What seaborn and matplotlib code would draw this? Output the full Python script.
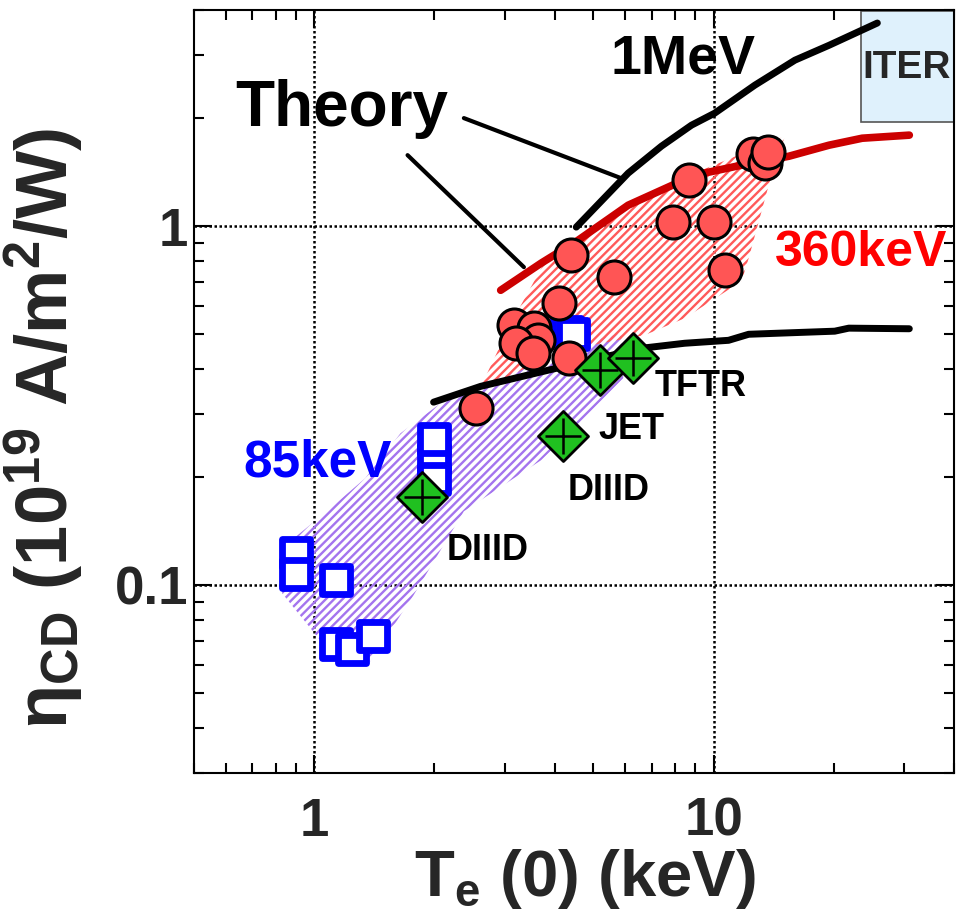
import numpy as np
import seaborn as sns
import matplotlib.pyplot as plt
from matplotlib.patches import Polygon, Rectangle
from matplotlib.ticker import FuncFormatter, NullFormatter

# theory curves, Te(0) in keV vs eta_CD in 1e19 A/m^2/W
MEV1_TE = [4.53, 6.11, 7.40, 8.80, 10.06, 12.68, 15.98, 19.45, 25.7]
MEV1_ETA = [0.994, 1.405, 1.67, 1.911, 2.064, 2.47, 2.90, 3.19, 3.68]
KEV360_TE = [2.93, 3.70, 4.58, 6.11, 8.96, 11.75, 15.43, 19.45, 23.55, 30.9]
KEV360_ETA = [0.663, 0.789, 0.914, 1.144, 1.387, 1.479, 1.566, 1.681, 1.758, 1.793]
LOW_TE = [1.99, 2.61, 3.85, 6.59, 8.46, 10.9, 12.24, 20.1, 21.8, 30.9]
LOW_ETA = [0.3235, 0.358, 0.397, 0.457, 0.472, 0.481, 0.500, 0.510, 0.520, 0.518]

# JT-60U high energy (N-NB) shots
CIRCLE_TE = [2.54, 3.16, 3.55, 3.63, 3.20, 3.53, 4.10, 4.40, 4.35, 5.64,
             7.93, 10.0, 10.66, 8.70, 12.53, 13.43, 13.67]
CIRCLE_ETA = [0.311, 0.530, 0.520, 0.481, 0.472, 0.443, 0.610, 0.830, 0.429, 0.721,
              1.026, 1.026, 0.754, 1.343, 1.587, 1.498, 1.607]

# 85 keV positive-ion beams
SQUARE_TE = [0.901, 0.901, 1.132, 1.132, 1.242, 1.403, 2.0, 2.0, 2.0, 4.30, 4.45]
SQUARE_ETA = [0.1228, 0.1073, 0.1036, 0.0687, 0.0663, 0.0723, 0.2244, 0.255, 0.1973, 0.507, 0.500]

# other machines
DIAMOND_TE = [1.857, 4.20, 5.20, 6.30]
DIAMOND_ETA = [0.1758, 0.260, 0.397, 0.429]

RED_REGION_TE = [2.58, 3.11, 3.80, 5.87, 9.33, 15.08, 13.74, 12.24, 11.75, 8.46, 6.71, 5.23, 4.03]
RED_REGION_ETA = [0.347, 0.537, 0.804, 1.087, 1.432, 1.781, 1.301, 0.814, 0.703, 0.554, 0.497, 0.472, 0.443]
PURPLE_REGION_TE = [0.860, 1.097, 1.343, 1.645, 2.07, 2.61, 3.70, 5.23, 5.87, 5.94, 4.66, 3.70,
                    2.37, 1.773, 1.382, 1.142, 0.831]
PURPLE_REGION_ETA = [0.131, 0.1638, 0.1987, 0.265, 0.321, 0.3655, 0.415, 0.4875, 0.5035, 0.3773,
                     0.286, 0.223, 0.1607, 0.0938, 0.0614, 0.0614, 0.095]

THEORY_POINTERS = [((2.37, 2.00), (5.87, 1.36)), ((1.713, 1.577), (3.35, 0.769))]

LABELS = [
    ('Theory', 0.633, 1.899, 46, 'black'),
    ('1MeV', 5.51, 2.67, 40, 'black'),
    ('360keV', 14.23, 0.774, 36, '#ff0000'),
    ('85keV', 0.663, 0.201, 37, '#0000ff'),
    ('TFTR', 7.11, 0.336, 26, 'black'),
    ('JET', 5.14, 0.255, 26, 'black'),
    ('DIIID', 4.30, 0.1725, 26, 'black'),
    ('DIIID', 2.15, 0.1174, 26, 'black'),
]


def _hatched_region(ax, te, eta, color):
    ax.add_patch(Polygon(np.column_stack([te, eta]), closed=True, facecolor='none',
                         edgecolor=color, linewidth=0, hatch='////', zorder=1))


def _curve(ax, te, eta, color, width):
    sns.lineplot(x=te, y=eta, ax=ax, color=color, linewidth=width,
                 sort=False, estimator=None, zorder=2)


def neutral_beam_cd():
    sns.set_style('ticks')
    plt.rcParams['font.family'] = ['Liberation Sans', 'DejaVu Sans']
    plt.rcParams['font.weight'] = 'bold'
    plt.rcParams['axes.labelweight'] = 'bold'
    plt.rcParams['mathtext.default'] = 'regular'
    plt.rcParams['hatch.linewidth'] = 1.7

    fig = plt.figure(figsize=(9.56, 9.19), dpi=100)
    ax = fig.add_axes([0.2029, 0.1589, 0.7951, 0.8302])
    ax.set_xscale('log')
    ax.set_yscale('log')
    ax.set_xlim(0.5, 40)
    ax.set_ylim(0.03, 4)

    _hatched_region(ax, PURPLE_REGION_TE, PURPLE_REGION_ETA, '#a474ee')
    _hatched_region(ax, RED_REGION_TE, RED_REGION_ETA, '#ff5a5a')

    ax.add_patch(Rectangle((23.4, 1.95), 30, 2.02, facecolor='#dff1fc',
                           edgecolor='#555555', linewidth=1.2, zorder=2))

    _curve(ax, MEV1_TE, MEV1_ETA, 'black', 5.0)
    _curve(ax, KEV360_TE, KEV360_ETA, '#cc0000', 5.5)
    _curve(ax, LOW_TE, LOW_ETA, 'black', 5.0)

    for start, end in THEORY_POINTERS:
        ax.annotate('', xy=end, xytext=start,
                    arrowprops=dict(arrowstyle='-', lw=3, color='black',
                                    shrinkA=0, shrinkB=0))

    sns.scatterplot(x=SQUARE_TE, y=SQUARE_ETA, ax=ax, marker='s', s=380,
                    color='white', edgecolor='#0000ff', linewidth=4.9, zorder=3, legend=False)
    sns.scatterplot(x=CIRCLE_TE, y=CIRCLE_ETA, ax=ax, marker='o', s=565,
                    color='#ff5555', edgecolor='black', linewidth=2.2, zorder=4, legend=False)
    sns.scatterplot(x=DIAMOND_TE, y=DIAMOND_ETA, ax=ax, marker='D', s=650,
                    color='#20c020', edgecolor='black', linewidth=2.0, zorder=5, legend=False)
    sns.scatterplot(x=DIAMOND_TE, y=DIAMOND_ETA, ax=ax, marker='+', s=650,
                    color='black', linewidth=1.8, zorder=5, legend=False)

    for text, x, y, size, color in LABELS:
        ax.text(x, y, text, fontsize=size, color=color, ha='left', va='baseline', zorder=6)
    ax.text(23.6, 2.58, 'ITER', fontsize=28, ha='left', va='baseline', zorder=6, clip_on=False)

    ax.grid(True, which='major', color='black', linestyle=(0, (1, 1)), linewidth=1.8)
    for side in ax.spines.values():
        side.set_linewidth(1.5)
        side.set_color('black')
    ax.tick_params(which='both', direction='in', top=True, right=True, width=1.5, color='black')
    ax.tick_params(which='major', length=13, labelsize=38)
    ax.tick_params(which='minor', length=7)
    ax.tick_params(axis='x', which='major', pad=17)
    ax.tick_params(axis='y', which='major', pad=4)
    ax.xaxis.set_major_formatter(FuncFormatter(lambda v, p: '{:g}'.format(v)))
    ax.yaxis.set_major_formatter(FuncFormatter(lambda v, p: '{:g}'.format(v)))
    ax.xaxis.set_minor_formatter(NullFormatter())
    ax.yaxis.set_minor_formatter(NullFormatter())

    ax.set_xlabel('T$_{e}$ (0) (keV)', fontsize=47, fontweight='bold')
    ax.xaxis.set_label_coords(0.5145, -0.097)
    ax.set_ylabel('η$_{CD}$ (10$^{19}$ A/m$^{2}$/W)', fontsize=52, fontweight='bold')
    ax.yaxis.set_label_coords(-0.1434, 0.452)

    fig.savefig('out.png', dpi=100)


if __name__ == '__main__':
    neutral_beam_cd()
